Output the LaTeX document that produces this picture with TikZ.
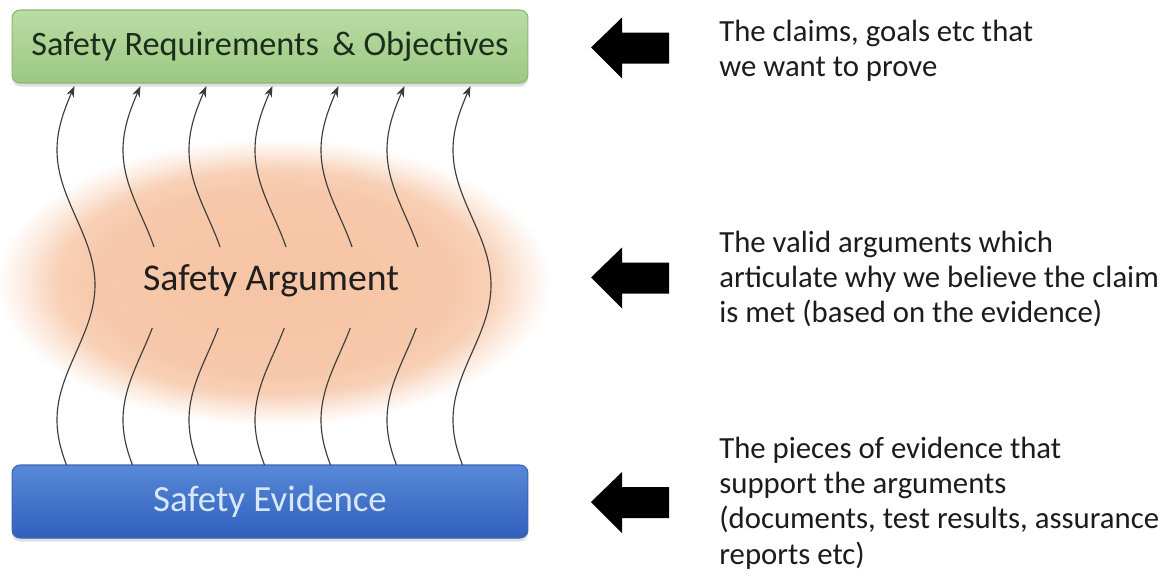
\documentclass[tikz,border=0pt]{standalone}
\usepackage{fontspec}
\setmainfont{Carlito}
\usetikzlibrary{shadows,arrows.meta}

\definecolor{reqtop}{RGB}{186,220,165}
\definecolor{reqbot}{RGB}{156,200,130}
\definecolor{reqedge}{RGB}{138,184,112}
\definecolor{reqtext}{RGB}{26,46,26}
\definecolor{evtop}{RGB}{88,136,214}
\definecolor{evbot}{RGB}{48,96,188}
\definecolor{evedge}{RGB}{58,100,182}
\definecolor{evtext}{RGB}{214,232,250}
\definecolor{peach}{RGB}{247,200,170}
\definecolor{peachcore}{RGB}{246,196,164}
\definecolor{wavecol}{RGB}{60,60,60}
\definecolor{notetext}{RGB}{28,28,28}

% soft glow behind the argument label
\pgfdeclareradialshading{argglow}{\pgfpoint{0bp}{0bp}}{%
  color(0bp)=(peachcore); color(16bp)=(peach); color(19.5bp)=(peach!85!white);
  color(22.5bp)=(peach!35!white); color(25bp)=(white); color(50bp)=(white)}

\tikzset{
  layerbox/.style={rectangle, rounded corners=8*0.02cm, draw=#1edge, line width=0.6pt,
    top color=#1top, bottom color=#1bot, minimum width=10.32cm, minimum height=1.46cm,
    drop shadow={opacity=0.25, shadow xshift=0pt, shadow yshift=-2pt}},
  wave/.style={draw=wavecol, line width=0.65pt},
  wavetip/.style={-{Stealth[length=2.2mm,width=1.6mm]}},
  note/.style={anchor=north west, inner sep=0pt, align=left, text=notetext,
    font=\fontsize{17.5}{20}\selectfont},
  blockarrow/.pic={\fill[black] (0,0) -- (31,-30) -- (31,-15) -- (78,-15) -- (78,16)
    -- (31,16) -- (31,31) -- cycle;}
}

\begin{document}
\begin{tikzpicture}[x=0.02cm,y=-0.02cm]
\useasboundingbox (0,0) rectangle (1169,575);
\fill[white] (0,0) rectangle (1169,575);

% glow (the shading fades to white inside the rectangle)
\fill[shading=argglow] (-4,138) rectangle (552,426);

% layers
\node[layerbox=req, text=reqtext, font=\fontsize{19.5}{22}\selectfont] (req) at (270,46.5)
  {Safety Requirements \,\& Objectives};
\node[layerbox=ev, text=evtext, font=\fontsize{21}{24}\selectfont] (ev) at (270,501.5)
  {Safety Evidence};
\node[text=black!88, font=\fontsize{21.5}{26}\selectfont] (arg) at (271,281) {Safety Argument};

% wavy support lines from evidence up to the requirements
\foreach \k in {0,6}{
  \draw[wave,wavetip] plot[domain=465:86, samples=90, variable=\t]
    ({76+66*\k+19*cos((\t-285)*4/3)},{\t});
}
\foreach \k in {1,...,5}{
  \draw[wave] plot[domain=465:328, samples=40, variable=\t]
    ({76+66*\k+19*cos((\t-285)*4/3)},{\t});
  \draw[wave,wavetip] plot[domain=247:86, samples=50, variable=\t]
    ({76+66*\k+19*cos((\t-285)*4/3)},{\t});
}

% pointer arrows
\pic (p1) at (591,47.5) {blockarrow};
\pic (p2) at (591,277.5) {blockarrow};
\pic (p3) at (591,502) {blockarrow};

% explanations
\node[note] (n1) at (719,20) {The claims, goals etc that\\we want to prove};
\node[note] (n2) at (719,231) {The valid arguments which\\articulate why we believe the claim\\is met (based on the evidence)};
\node[note] (n3) at (719,437) {The pieces of evidence that\\support the arguments\\(documents, test results, assurance\\reports etc)};
\end{tikzpicture}
\end{document}
